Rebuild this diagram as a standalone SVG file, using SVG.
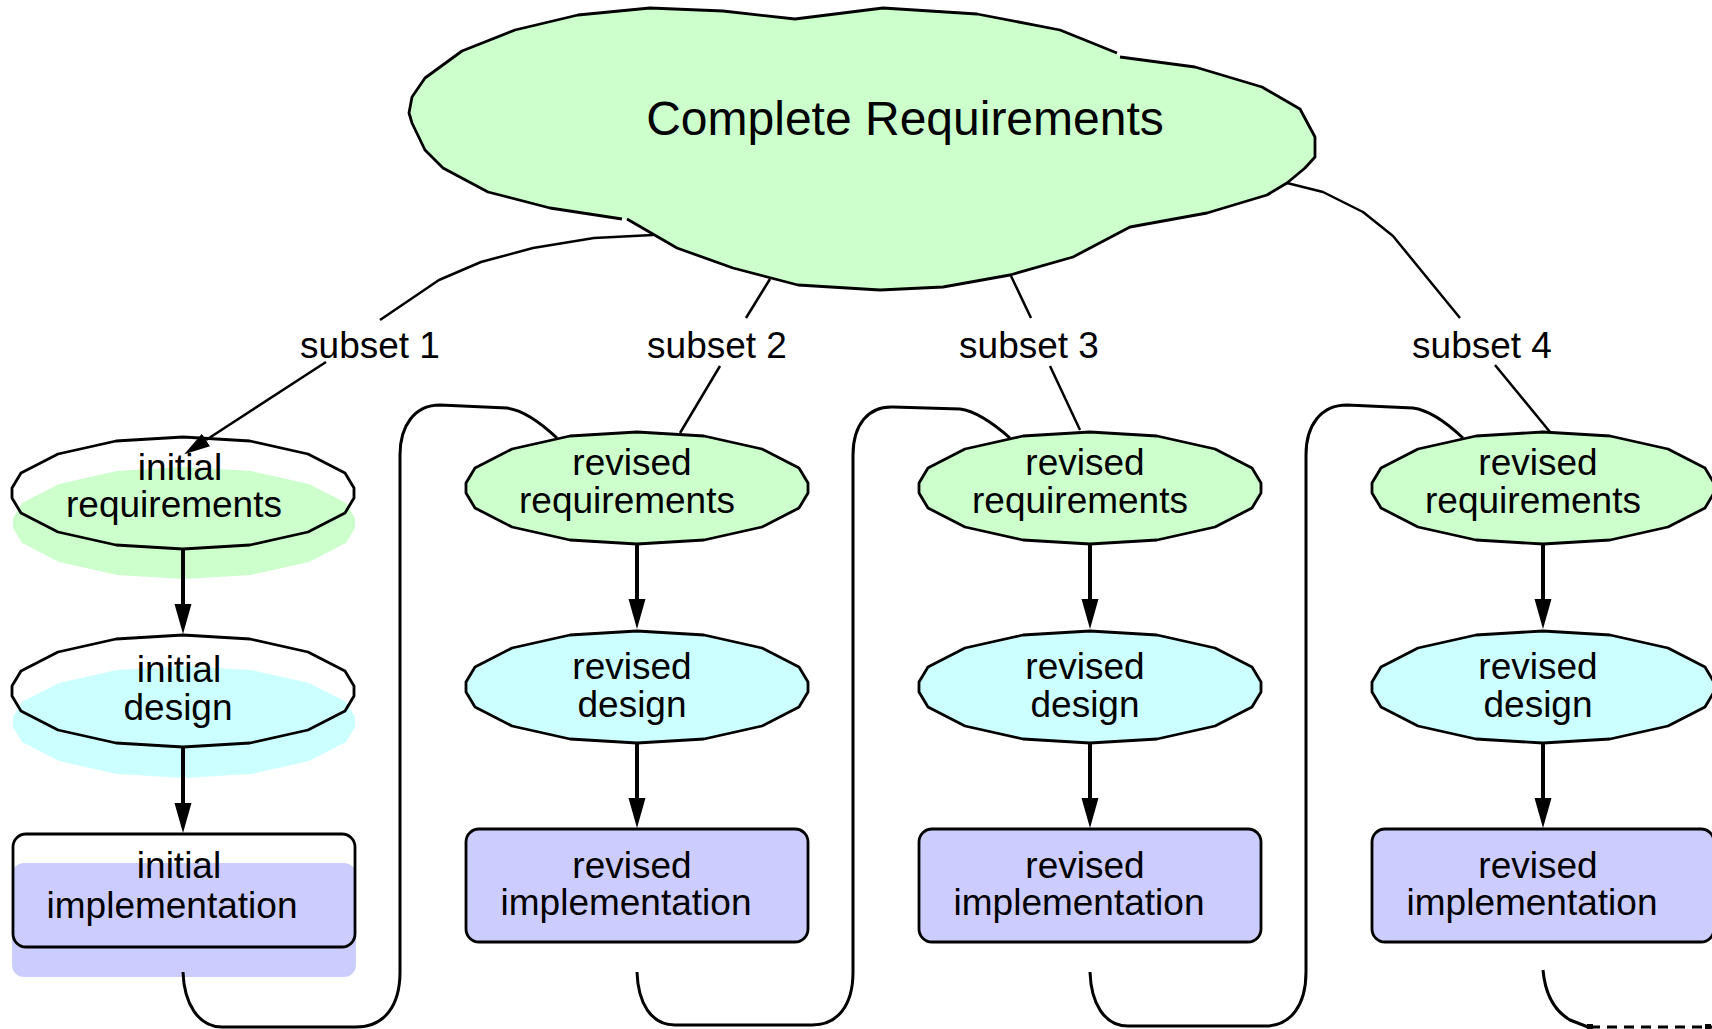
<svg xmlns="http://www.w3.org/2000/svg" xmlns:xlink="http://www.w3.org/1999/xlink" width="1712" height="1029" viewBox="0 0 1712 1029">
  <style>
    .ol { stroke:#000; stroke-width:2.8; stroke-linejoin:round; }
    .none { fill:none; }
    .req { fill:#ccffcc; }
    .des { fill:#ccffff; }
    .imp { fill:#ccccff; }
    .t { font-family:"Liberation Sans",Arial,Helvetica,sans-serif; font-size:37px; text-anchor:middle; fill:#000; }
    .title { font-size:48px; }
    .edge { fill:none; stroke:#000; stroke-width:2.5; stroke-linejoin:round; stroke-linecap:butt; }
    .flow { fill:none; stroke:#000; stroke-width:4; }
    .loop { fill:none; stroke:#000; stroke-width:3; stroke-linejoin:round; }
  </style>
  <defs>
    <!-- faceted ellipse outline used by requirement and design nodes -->
    <path id="ell" d="M-171,-5 L-162,-20 L-125,-39 L-67,-52 L0,-56 L67,-52 L125,-39 L162,-20 L171,-5 L171,5 L162,20 L125,39 L67,52 L0,56 L-67,52 L-125,39 L-162,20 L-171,5 Z"/>
    <marker id="ah" markerUnits="userSpaceOnUse" viewBox="0 -9 31 18" markerWidth="31" markerHeight="18" refX="0" refY="0" orient="auto">
      <path d="M0,-8.5 L30,0 L0,8.5 Z" fill="#000"/>
    </marker>
    <marker id="ahs" markerUnits="userSpaceOnUse" viewBox="0 -8 27 16" markerWidth="27" markerHeight="16" refX="0" refY="0" orient="auto">
      <path d="M0,-7.5 L26,0 L0,7.5 Z" fill="#000"/>
    </marker>
  </defs>

  <!-- top cloud -->
  <g id="complete-requirements">
    <polygon class="req" points="409,113 412,97 425,78 462,51 515,30 578,15 650,8 723,11 795,19 883,8 977,14 1060,30 1117,53 1120,57 1195,67 1262,87 1300,109 1315,137 1315,157 1305,168 1287,183 1267,195 1207,213 1130,227 1073,257 1010,275 943,287 880,290 798,285 733,268 677,248 627,219 622,219 550,208 488,192 443,168 425,150 412,123"/>
    <polyline class="ol none" points="627,219 677,248 733,268 798,285 880,290 943,287 1010,275 1073,257 1130,227 1207,213 1267,195 1287,183 1305,168 1315,157 1315,137 1300,109 1262,87 1195,67 1120,57"/>
    <polyline class="ol none" points="1117,53 1060,30 977,14 883,8 795,19 723,11 650,8 578,15 515,30 462,51 425,78 412,97 409,113 412,123 425,150 443,168 488,192 550,208 622,219"/>
    <text class="t title" x="905" y="135">Complete Requirements</text>
  </g>

  <!-- column 1: initial cycle (fills drawn slightly below their outlines) -->
  <g id="initial-requirements">
    <use xlink:href="#ell" class="req" transform="translate(184,523)"/>
    <use xlink:href="#ell" class="ol none" transform="translate(183,493)"/>
    <text class="t" x="180" y="480">initial</text>
    <text class="t" x="174" y="517">requirements</text>
  </g>
  <g id="initial-design">
    <use xlink:href="#ell" class="des" transform="translate(184,722)"/>
    <use xlink:href="#ell" class="ol none" transform="translate(183,691)"/>
    <text class="t" x="179" y="682">initial</text>
    <text class="t" x="178" y="720">design</text>
  </g>
  <g id="initial-implementation">
    <rect class="imp" x="12" y="863" width="344" height="114" rx="12"/>
    <rect class="ol none" x="13" y="834" width="342" height="113" rx="13"/>
    <text class="t" x="179" y="878">initial</text>
    <text class="t" x="172" y="918">implementation</text>
  </g>

  <!-- column 2 -->
  <g id="revised-requirements-2">
    <use xlink:href="#ell" class="req ol" transform="translate(637,488)"/>
    <text class="t" x="632" y="475">revised</text>
    <text class="t" x="627" y="513">requirements</text>
  </g>
  <g id="revised-design-2">
    <use xlink:href="#ell" class="des ol" transform="translate(637,687)"/>
    <text class="t" x="632" y="679">revised</text>
    <text class="t" x="632" y="717">design</text>
  </g>
  <g id="revised-implementation-2">
    <rect class="imp ol" x="466" y="829" width="342" height="113" rx="13"/>
    <text class="t" x="632" y="878">revised</text>
    <text class="t" x="626" y="915">implementation</text>
  </g>

  <!-- column 3 -->
  <g id="revised-requirements-3">
    <use xlink:href="#ell" class="req ol" transform="translate(1090,488)"/>
    <text class="t" x="1085" y="475">revised</text>
    <text class="t" x="1080" y="513">requirements</text>
  </g>
  <g id="revised-design-3">
    <use xlink:href="#ell" class="des ol" transform="translate(1090,687)"/>
    <text class="t" x="1085" y="679">revised</text>
    <text class="t" x="1085" y="717">design</text>
  </g>
  <g id="revised-implementation-3">
    <rect class="imp ol" x="919" y="829" width="342" height="113" rx="13"/>
    <text class="t" x="1085" y="878">revised</text>
    <text class="t" x="1079" y="915">implementation</text>
  </g>

  <!-- column 4 -->
  <g id="revised-requirements-4">
    <use xlink:href="#ell" class="req ol" transform="translate(1543,488)"/>
    <text class="t" x="1538" y="475">revised</text>
    <text class="t" x="1533" y="513">requirements</text>
  </g>
  <g id="revised-design-4">
    <use xlink:href="#ell" class="des ol" transform="translate(1543,687)"/>
    <text class="t" x="1538" y="679">revised</text>
    <text class="t" x="1538" y="717">design</text>
  </g>
  <g id="revised-implementation-4">
    <rect class="imp ol" x="1372" y="829" width="342" height="113" rx="13"/>
    <text class="t" x="1538" y="878">revised</text>
    <text class="t" x="1532" y="915">implementation</text>
  </g>

  <!-- connectors -->
  <g id="connectors">
    <!-- subset edges from the cloud -->
    <polyline class="edge" points="653,235 594,238 533,248 481,262 439,280 380,320"/>
    <path class="edge" d="M326,362 L206,440" stroke-width="3.5" marker-end="url(#ahs)"/>
    <text class="t" x="370" y="358">subset 1</text>

    <path class="edge" d="M770,279 L746,318 M720,366 L680,433" stroke-width="3"/>
    <text class="t" x="717" y="358">subset 2</text>

    <path class="edge" d="M1011,276 L1031,318 M1050,366 L1080,430" stroke-width="2"/>
    <text class="t" x="1029" y="358">subset 3</text>

    <polyline class="edge" points="1287,183 1323,192 1363,212 1393,236 1460,318" stroke-width="2.8"/>
    <path class="edge" d="M1495,365 L1550,432"/>
    <text class="t" x="1482" y="358">subset 4</text>

    <!-- flow within each column -->
    <path class="flow" d="M183,549 V604" marker-end="url(#ah)"/>
    <path class="flow" d="M183,748 V803" marker-end="url(#ah)"/>
    <path class="flow" d="M637,545 V599" marker-end="url(#ah)"/>
    <path class="flow" d="M637,744 V798" marker-end="url(#ah)"/>
    <path class="flow" d="M1090,545 V599" marker-end="url(#ah)"/>
    <path class="flow" d="M1090,744 V798" marker-end="url(#ah)"/>
    <path class="flow" d="M1543,545 V599" marker-end="url(#ah)"/>
    <path class="flow" d="M1543,744 V798" marker-end="url(#ah)"/>

    <!-- feedback loops: implementation back into the next requirements -->
    <path class="loop" d="M183,972 C184,1003 198,1027 222,1027 L356,1027 C385,1027 400,1005 400,972 L400,455 C400,425 415,405 440,405 L507,408 C522,410 540,422 557,438"/>
    <path class="loop" d="M637,972 C638,1003 651,1025 675,1025 L812,1025 C838,1025 853,1005 853,972 L853,455 C853,425 868,406 893,407 L960,409 C975,411 993,423 1010,438"/>
    <path class="loop" d="M1090,972 C1091,1003 1104,1026 1128,1026 L1265,1026 C1291,1026 1306,1005 1306,972 L1306,455 C1306,425 1321,405 1347,405 L1413,408 C1428,410 1446,422 1463,438"/>
    <path class="loop" d="M1543,970 C1545,992 1553,1010 1570,1020 L1588,1027"/>
    <path class="loop" d="M1590,1027 H1712" stroke-width="2" stroke-dasharray="10 7"/>
    <rect x="1587" y="1024" width="6" height="5" fill="#000"/>
    <rect x="1705" y="1024" width="6" height="5" fill="#000"/>
  </g>
</svg>
